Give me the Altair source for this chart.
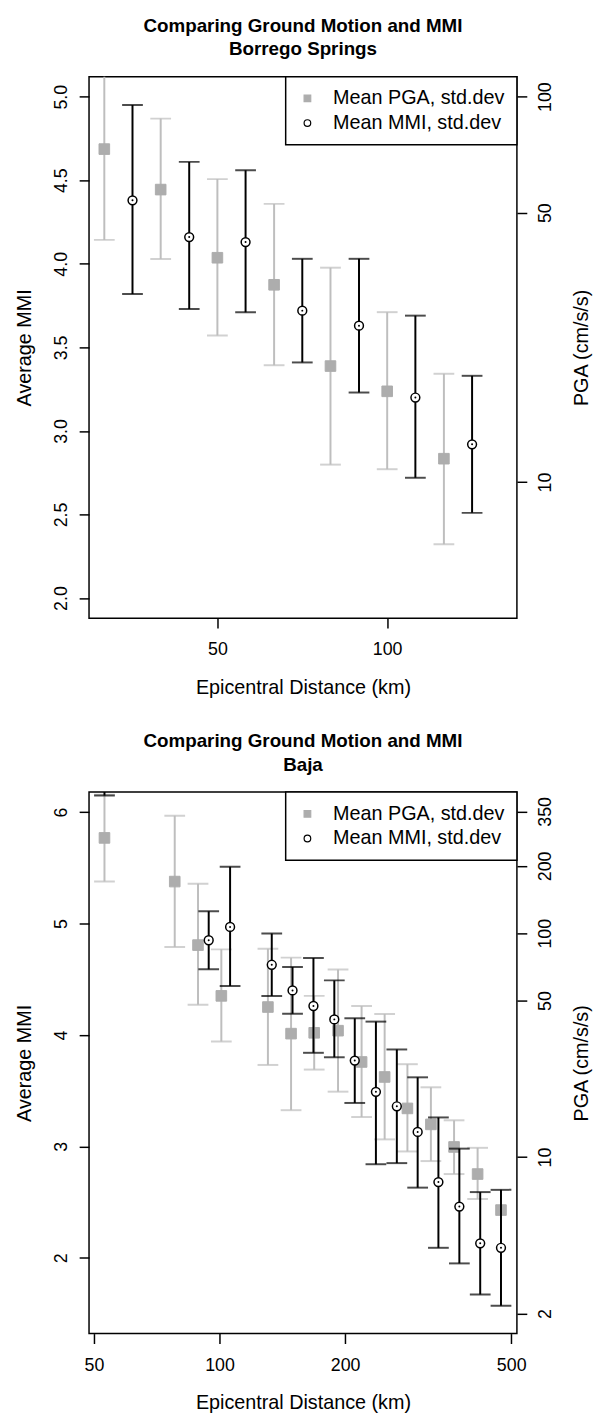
import altair as alt
import pandas as pd

FONT = "Liberation Sans"
SERIES = ["Mean PGA, std.dev", "Mean MMI, std.dev"]

# ---- Borrego Springs ----
bs_pga_dist = [16.7, 33.3, 50.0, 66.7, 83.3, 100.0, 116.7]
bs_pga_mean = [73.1, 57.4, 38.2, 32.5, 20.0, 17.2, 11.5]
bs_pga_lo = [42.5, 37.9, 24.0, 20.1, 11.1, 10.8, 6.9]
bs_pga_hi = [125.6, 87.7, 61.1, 52.7, 36.0, 27.6, 19.1]
bs_mmi_dist = [25.0, 41.7, 58.3, 75.0, 91.7, 108.3, 125.0]
bs_mmi_mean = [4.38, 4.16, 4.13, 3.72, 3.63, 3.20, 2.92]
bs_mmi_lo = [3.82, 3.73, 3.71, 3.41, 3.23, 2.72, 2.51]
bs_mmi_hi = [4.95, 4.61, 4.56, 4.03, 4.03, 3.69, 3.33]

# ---- Baja ----
bj_pga_dist = [53.0, 78.1, 88.8, 101.0, 130.6, 148.4, 168.6, 192.3, 219.0,
               248.7, 282.0, 321.0, 364.8, 415.4, 472.6]
bj_pga_mean = [266.5, 170.1, 88.5, 52.5, 46.8, 35.6, 35.9, 36.7, 26.6,
               22.8, 16.5, 14.0, 11.1, 8.4, 5.8]
bj_pga_lo = [170.1, 86.8, 47.9, 32.8, 25.8, 16.2, 24.6, 19.6, 15.1,
             12.0, 10.6, 9.6, 8.4, 6.5, None]
bj_pga_hi = [416.0, 334.9, 166.2, 84.7, 85.2, 77.8, 52.5, 68.9, 47.3,
             43.6, 26.0, 20.5, 14.6, 11.0, None]
bj_mmi_dist = [53.0, 94.2, 106.0, 133.4, 149.6, 167.9, 188.4, 210.9, 237.0,
               266.0, 298.4, 334.6, 375.6, 421.4, 472.6]
bj_mmi_mean = [6.50, 4.85, 4.97, 4.63, 4.40, 4.26, 4.14, 3.77, 3.49,
               3.36, 3.13, 2.68, 2.46, 2.13, 2.09]
bj_mmi_lo = [6.15, 4.59, 4.44, 4.35, 4.19, 3.84, 3.80, 3.39, 2.84,
             2.85, 2.63, 2.09, 1.95, 1.67, 1.57]
bj_mmi_hi = [6.85, 5.11, 5.51, 4.91, 4.61, 4.69, 4.49, 4.15, 4.12,
             3.87, 3.62, 3.26, 2.98, 2.59, 2.61]

GRAY_BAR = "#BEBEBE"
GRAY_PT = "#ADADAD"
W, H = 433, 548


def panel(title_lines, pga_dist, pga_mean, pga_lo, pga_hi,
          mmi_dist, mmi_mean, mmi_lo, mmi_hi,
          x_scale, x_ticks, mmi_domain, mmi_ticks, mmi_fmt,
          pga_domain, pga_ticks):
    pga = pd.DataFrame({"dist": pga_dist, "mean": pga_mean, "lo": pga_lo,
                        "hi": pga_hi, "series": SERIES[0]})
    mmi = pd.DataFrame({"dist": mmi_dist, "mean": mmi_mean, "lo": mmi_lo,
                        "hi": mmi_hi, "series": SERIES[1]})

    x = alt.X("dist:Q", scale=x_scale,
              axis=alt.Axis(values=x_ticks, title="Epicentral Distance (km)",
                            format="d", labelPadding=13, titlePadding=19))

    pga_axis = alt.Axis(orient="right", values=pga_ticks, format="d",
                        title="PGA (cm/s/s)", titleAngle=270,
                        titleBaseline="middle", titleX=65.8, titleY=H / 2,
                        labelAngle=270, labelAlign="center",
                        labelBaseline="middle", labelPadding=19.3)
    pga_scale = alt.Scale(type="log", domain=pga_domain, nice=False)

    mmi_axis = alt.Axis(orient="left", values=mmi_ticks, format=mmi_fmt,
                        title="Average MMI", titleAngle=270,
                        titleBaseline="middle", titleX=-65.3, titleY=H / 2,
                        labelAngle=270, labelAlign="center",
                        labelBaseline="middle", labelPadding=17.3)
    mmi_scale = alt.Scale(domain=mmi_domain, nice=False, zero=False)

    leg = alt.Legend(title=None, orient="top-right", offset=0,
                     labelFont=FONT, labelFontSize=20, labelLimit=400,
                     symbolSize=45, symbolStrokeWidth=1.2, padding=12,
                     rowPadding=5, labelOffset=16, fillColor="white",
                     strokeColor="black")
    shape = alt.Shape("series:N", scale=alt.Scale(domain=SERIES, range=["square", "circle"]), legend=leg)
    fill = alt.Fill("series:N", scale=alt.Scale(domain=SERIES, range=[GRAY_PT, "white"]), legend=leg)
    stroke = alt.Stroke("series:N", scale=alt.Scale(domain=SERIES, range=[GRAY_PT, "black"]), legend=leg)

    gb = alt.Chart(pga)
    g_rule = gb.mark_rule(color=GRAY_BAR, strokeWidth=2, clip=True).encode(
        x=x, y=alt.Y("lo:Q", scale=pga_scale, axis=pga_axis), y2="hi:Q")
    g_cap1 = gb.mark_tick(color=GRAY_BAR, orient="horizontal", size=21,
                          thickness=2, clip=True).encode(
        x=x, y=alt.Y("lo:Q", scale=pga_scale, axis=pga_axis))
    g_cap2 = gb.mark_tick(color=GRAY_BAR, orient="horizontal", size=21,
                          thickness=2, clip=True).encode(
        x=x, y=alt.Y("hi:Q", scale=pga_scale, axis=pga_axis))
    g_pts = gb.mark_point(filled=True, size=115, opacity=1, strokeWidth=1,
                          clip=True).encode(
        x=x, y=alt.Y("mean:Q", scale=pga_scale, axis=pga_axis),
        shape=shape, fill=fill, stroke=stroke)
    gray = alt.layer(g_rule, g_cap1, g_cap2, g_pts)

    bb = alt.Chart(mmi)
    b_rule = bb.mark_rule(color="black", strokeWidth=2, clip=True).encode(
        x=x, y=alt.Y("lo:Q", scale=mmi_scale, axis=mmi_axis), y2="hi:Q")
    b_cap1 = bb.mark_tick(color="black", orient="horizontal", size=21,
                          thickness=2, clip=True).encode(
        x=x, y=alt.Y("lo:Q", scale=mmi_scale, axis=mmi_axis))
    b_cap2 = bb.mark_tick(color="black", orient="horizontal", size=21,
                          thickness=2, clip=True).encode(
        x=x, y=alt.Y("hi:Q", scale=mmi_scale, axis=mmi_axis))
    b_pts = bb.mark_point(filled=True, size=80, opacity=1, strokeWidth=1.5,
                          clip=True).encode(
        x=x, y=alt.Y("mean:Q", scale=mmi_scale, axis=mmi_axis),
        shape=shape, fill=fill, stroke=stroke)
    b_dot = bb.mark_circle(color="black", size=4, opacity=1, clip=True).encode(
        x=x, y=alt.Y("mean:Q", scale=mmi_scale, axis=mmi_axis))
    black = alt.layer(b_rule, b_cap1, b_cap2, b_pts, b_dot)

    return alt.layer(gray, black).resolve_scale(y="independent").properties(
        width=W, height=H,
        title=alt.TitleParams(text=title_lines, font=FONT, fontSize=19,
                              fontWeight="bold", lineHeight=23.4,
                              anchor="middle", offset=17, color="black"))


top = panel(["Comparing Ground Motion and MMI", "Borrego Springs"],
            bs_pga_dist, bs_pga_mean, bs_pga_lo, bs_pga_hi,
            bs_mmi_dist, bs_mmi_mean, bs_mmi_lo, bs_mmi_hi,
            alt.Scale(domain=[12.2, 138.2], nice=False, zero=False), [50, 100],
            [1.88, 5.12], [2.0, 2.5, 3.0, 3.5, 4.0, 4.5, 5.0], ".1f",
            [4.436, 112.7], [10, 50, 100])

bottom = panel(["Comparing Ground Motion and MMI", "Baja"],
               bj_pga_dist, bj_pga_mean, bj_pga_lo, bj_pga_hi,
               bj_mmi_dist, bj_mmi_mean, bj_mmi_lo, bj_mmi_hi,
               alt.Scale(type="log", domain=[48.67, 516], nice=False),
               [50, 100, 200, 500],
               [1.32, 6.18], [2, 3, 4, 5, 6], "d",
               [1.628, 427], [2, 10, 50, 100, 200, 350])

chart = alt.vconcat(top, bottom, spacing=34).resolve_scale(
    fill="independent", stroke="independent", shape="independent"
).properties(
    padding={"left": 5, "top": 0, "right": 0, "bottom": 0},
    background="white",
).configure_view(
    stroke="black", strokeWidth=1.5
).configure_axis(
    domain=False, grid=False, tickColor="black", tickWidth=1.5, tickSize=10,
    labelFont=FONT, labelFontSize=18, labelColor="black",
    titleFont=FONT, titleFontSize=20, titleFontWeight="normal",
    titleColor="black"
).configure_legend(strokeWidth=1.5)

chart.save("out.html", embed_options={"renderer": "svg", "actions": False})
